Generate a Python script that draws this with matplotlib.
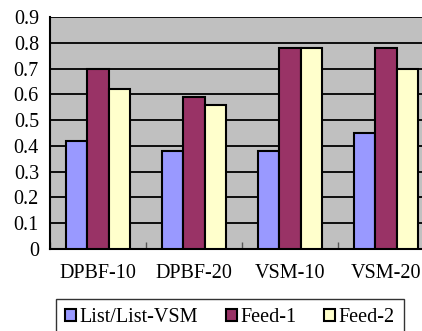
import matplotlib.pyplot as plt
import numpy as np

categories = ["DPBF-10", "DPBF-20", "VSM-10", "VSM-20"]
list_vsm = [0.42, 0.38, 0.38, 0.45]
feed1 = [0.70, 0.59, 0.78, 0.78]
feed2 = [0.62, 0.56, 0.78, 0.70]
series_names = ["List/List-VSM", "Feed-1", "Feed-2"]
yticks = [0, 0.1, 0.2, 0.3, 0.4, 0.5, 0.6, 0.7, 0.8, 0.9]
ytick_labels = ["0", "0.1", "0.2", "0.3", "0.4", "0.5", "0.6", "0.7", "0.8", "0.9"]

colors = ["#9999FF", "#993366", "#FFFFCC"]

plt.rcParams['font.family'] = ['Liberation Serif', 'DejaVu Serif']

fig = plt.figure(figsize=(4.22, 3.31), dpi=100)
ax = fig.add_axes([50/422, 82/331, 384/422, 232/331])
ax.set_facecolor("#C0C0C0")

x = np.arange(len(categories))
w = 0.22
bars = []
for i, vals in enumerate([list_vsm, feed1, feed2]):
    b = ax.bar(x + (i - 1) * w, vals, w, color=colors[i], edgecolor="black",
               linewidth=1.5, label=series_names[i], zorder=3)
    bars.append(b)

ax.set_ylim(0, 0.9)
ax.set_xlim(-0.5, 3.5)
ax.set_yticks(yticks)
ax.set_yticklabels(ytick_labels, fontsize=14.5)
ax.yaxis.grid(True, color="black", linewidth=1.3, zorder=1)
ax.tick_params(axis="y", length=0, pad=8)

ax.set_xticks(x)
ax.set_xticklabels(categories, fontsize=14.5)
ax.tick_params(axis="x", length=0, pad=11)
ax.set_xticks(np.arange(-0.5, 4, 1), minor=True)
ax.tick_params(axis="x", which="minor", direction="in", length=5, width=1, color="#555555")

for s in ["top", "right"]:
    ax.spines[s].set_visible(False)
ax.spines["left"].set_linewidth(1.5)
ax.spines["bottom"].set_linewidth(1.5)

leg = fig.legend(handles=bars, loc="upper left", bbox_to_anchor=(56/422, 32/331),
                 ncol=3, fontsize=14.5, frameon=True, fancybox=False,
                 handlelength=0.55, handleheight=0.55, handletextpad=0.15,
                 columnspacing=1.4, borderpad=0.45, borderaxespad=0)
leg.get_frame().set_edgecolor("black")
leg.get_frame().set_linewidth(1)

fig.savefig("out.png", dpi=100)
